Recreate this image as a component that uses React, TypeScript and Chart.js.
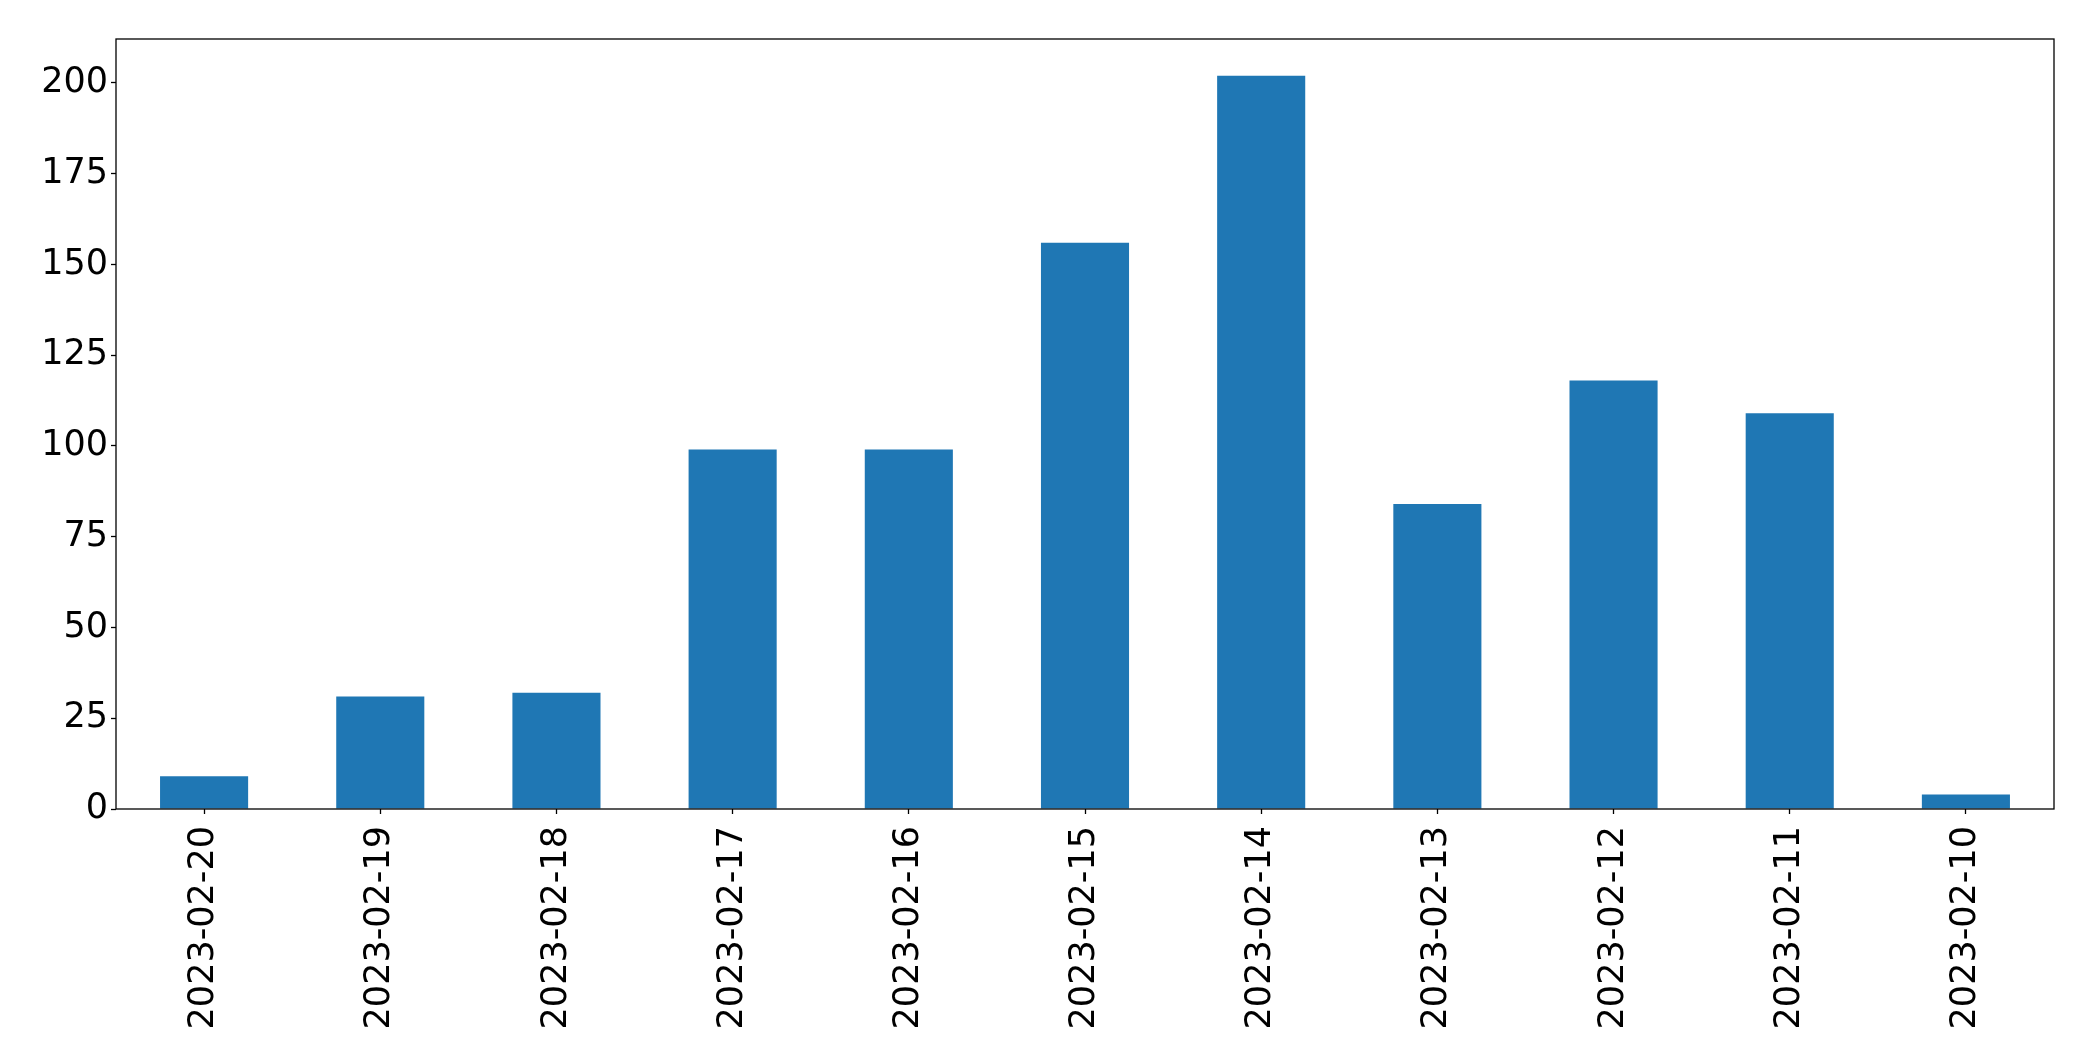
import React, { useEffect, useRef } from "react";
import { Chart, registerables } from "chart.js";

Chart.register(...registerables);

const categories = [
  "2023-02-20",
  "2023-02-19",
  "2023-02-18",
  "2023-02-17",
  "2023-02-16",
  "2023-02-15",
  "2023-02-14",
  "2023-02-13",
  "2023-02-12",
  "2023-02-11",
  "2023-02-10",
];
const counts = [9, 31, 32, 99, 99, 156, 202, 84, 118, 109, 4];
const yMax = 212.1;
const yStep = 25;

const frame = {
  id: "frame",
  afterDraw(chart: any) {
    const { ctx, chartArea } = chart;
    ctx.save();
    ctx.strokeStyle = "#000";
    ctx.lineWidth = 1.3;
    ctx.strokeRect(chartArea.left, chartArea.top, chartArea.right - chartArea.left, chartArea.bottom - chartArea.top);
    ctx.restore();
  },
};

export default function App() {
  const ref = useRef<HTMLCanvasElement>(null);
  useEffect(() => {
    document.body.style.margin = "0";
    const font = { family: "'DejaVu Sans', sans-serif", size: 35 };
    const chart = new Chart(ref.current!, {
      type: "bar",
      data: {
        labels: categories,
        datasets: [
          {
            data: counts,
            backgroundColor: "#1f77b4",
            barPercentage: 0.5,
            categoryPercentage: 1,
          },
        ],
      },
      options: {
        animation: false,
        responsive: false,
        maintainAspectRatio: false,
        layout: { padding: { top: 39, right: 39, left: 0, bottom: 0 } },
        plugins: { legend: { display: false }, tooltip: { enabled: false } },
        scales: {
          x: {
            offset: true,
            grid: { offset: false, drawOnChartArea: false, tickLength: 5, tickColor: "#000", tickWidth: 1.3 },
            border: { display: false },
            ticks: { color: "#000", font, minRotation: 90, maxRotation: 90, autoSkip: false, padding: 12 },
            afterFit: (s: any) => {
              s.height = 252;
            },
          },
          y: {
            min: 0,
            max: yMax,
            grid: { drawOnChartArea: false, tickLength: 5, tickColor: "#000", tickWidth: 1.3 },
            border: { display: false },
            ticks: { color: "#000", font, stepSize: yStep, padding: 3 },
            afterBuildTicks: (s: any) => {
              s.ticks = s.ticks.filter((t: any) => t.value % yStep === 0);
            },
            afterFit: (s: any) => {
              s.width = 116;
            },
          },
        },
      },
      plugins: [frame],
    });
    return () => chart.destroy();
  }, []);
  return (
    <div style={{ width: 2093, height: 1061, background: "#fff" }}>
      <canvas ref={ref} width={2093} height={1061} style={{ display: "block" }} />
    </div>
  );
}
